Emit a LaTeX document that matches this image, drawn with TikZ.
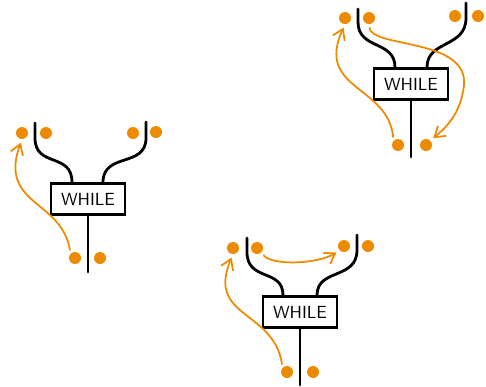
\documentclass[tikz,border=0pt]{standalone}
\usepackage{tikz}
\usetikzlibrary{arrows.meta}
\definecolor{dotorange}{RGB}{238,138,0}

\begin{document}
\begin{tikzpicture}[
  x=0.02cm, y=-0.02cm,
  dot/.style={circle, fill=dotorange, draw=none, minimum size=0.24cm, inner sep=0pt},
  whilebox/.style={rectangle, draw, line width=1.4pt, fill=white, minimum width=1.48cm, minimum height=0.62cm, inner sep=0pt, font=\sffamily},
  wire/.style={line width=1.6pt, line cap=round},
  flow/.style={-{Straight Barb[length=2mm,width=2.6mm]}, draw=dotorange, line width=1pt, line cap=round, shorten >=2pt, shorten <=2pt},
]
\useasboundingbox (0,0) rectangle (486,386);

% Left diagram
\node[dot] (la1) at (22,133) {};
\node[dot] (lb1) at (46,133) {};
\node[dot] (ra1) at (133,133) {};
\node[dot] (rb1) at (156,132) {};
\node[whilebox] (w1) at (88,199) {WHILE};
\coordinate (lt1) at (35,123);
\coordinate (rt1) at (146,122);
\coordinate (bt1) at (88,272);
\node[dot] (ba1) at (75,258) {};
\node[dot] (bb1) at (100,258) {};

\draw[wire] (lt1) -- (35,138) .. controls (35,168) and (72,152) .. ([xshift=-0.32cm]w1.north);
\draw[wire] (rt1) -- (146,138) .. controls (146,168) and (103,152) .. ([xshift=0.3cm]w1.north);
\draw[wire] (w1.south) -- (bt1);
\draw[flow] (ba1.north west) .. controls (62,200) and (-2,205) .. (la1.south);

% Top right diagram
\node[dot] (la2) at (345,18) {};
\node[dot] (lb2) at (369,18) {};
\node[dot] (ra2) at (455,16) {};
\node[dot] (rb2) at (478,16) {};
\node[whilebox] (w2) at (411,84) {WHILE};
\coordinate (lt2) at (358,9);
\coordinate (rt2) at (466,3);
\coordinate (bt2) at (411,157);
\node[dot] (ba2) at (398,145) {};
\node[dot] (bb2) at (426,145) {};

\draw[wire] (lt2) -- (358,22) .. controls (358,50) and (395,40) .. ([xshift=-0.32cm]w2.north);
\draw[wire] (rt2) -- (466,18) .. controls (466,48) and (427,40) .. ([xshift=0.32cm]w2.north);
\draw[wire] (w2.south) -- (bt2);
\draw[flow] (ba2.north west) .. controls (388,85) and (315,90) .. (la2.south);
\draw[flow] (lb2.south) .. controls (372,48) and (468,38) .. (464,85)
  .. controls (461,112) and (448,126) .. (bb2.north east);

% Bottom diagram
\node[dot] (la3) at (233,248) {};
\node[dot] (lb3) at (257,248) {};
\node[dot] (ra3) at (344,246) {};
\node[dot] (rb3) at (368,246) {};
\node[whilebox] (w3) at (300,312) {WHILE};
\coordinate (lt3) at (247,238);
\coordinate (rt3) at (357,235);
\coordinate (bt3) at (300,385);
\node[dot] (ba3) at (287,372) {};
\node[dot] (bb3) at (313,372) {};

\draw[wire] (lt3) -- (247,252) .. controls (247,282) and (283,268) .. ([xshift=-0.34cm]w3.north);
\draw[wire] (rt3) -- (357,250) .. controls (357,280) and (317,268) .. ([xshift=0.34cm]w3.north);
\draw[wire] (w3.south) -- (bt3);
\draw[flow] (ba3.north west) .. controls (274,310) and (206,318) .. (la3.south);
\draw[flow] (lb3.south east) .. controls (272,266) and (318,264) .. (ra3.south west);

\end{tikzpicture}
\end{document}
